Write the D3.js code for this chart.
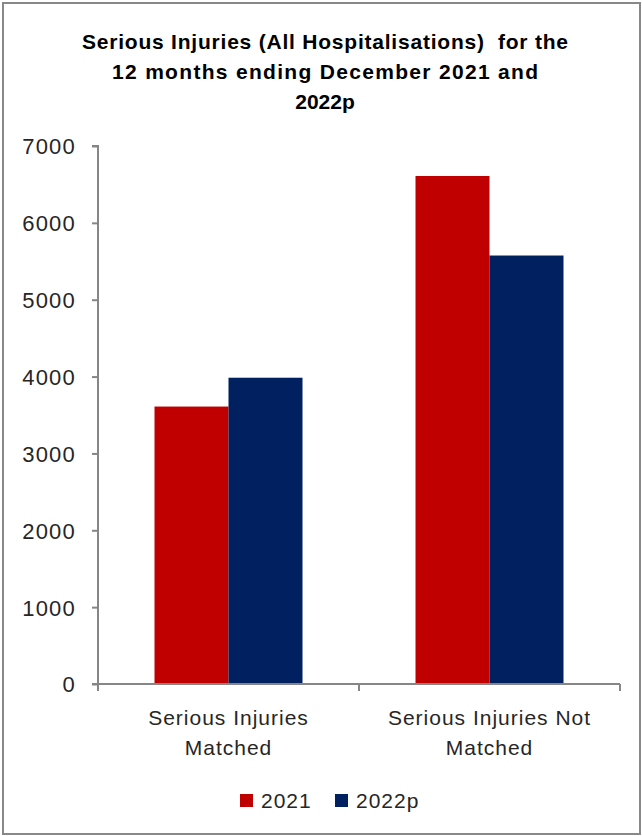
<!DOCTYPE html>
<html><head><meta charset="utf-8">
<script src="https://cdn.jsdelivr.net/npm/d3@7"></script>
<style>body{margin:0;background:#fff}svg{display:block}</style>
</head><body>
<script>
const categories = [["Serious Injuries","Matched"],["Serious Injuries Not","Matched"]];
const seriesNames = ["2021","2022p"];
const values2021 = [3610, 6610];
const values2022p = [3985, 5575];
const yTicks = [0,1000,2000,3000,4000,5000,6000,7000];
const titleLines = ["Serious Injuries (All Hospitalisations)  for the","12 months ending December 2021 and","2022p"];
const colors = ["#C00000","#002060"];

const W=642,H=836;
const svg=d3.select("body").append("svg").attr("width",W).attr("height",H);
svg.append("rect").attr("x",3).attr("y",3).attr("width",637).attr("height",831)
  .attr("fill","#fff").attr("stroke","#888").attr("stroke-width",2);

const font="Liberation Sans, Arial, sans-serif";
const titleW=[486,426,null];
svg.append("g").selectAll("text").data(titleLines).join("text")
  .attr("x",325).attr("y",(d,i)=>49+i*30).attr("text-anchor","middle")
  .attr("font-family",font).attr("font-weight","bold").attr("font-size",21).attr("fill","#000")
  .attr("xml:space","preserve")
  .each(function(d,i){ if(titleW[i]) d3.select(this).attr("textLength",titleW[i]).attr("lengthAdjust","spacing"); })
  .text(d=>d);

const x0=98,x1=620,yTop=146,yBot=684;
const x=d3.scaleBand().domain(d3.range(categories.length)).range([x0,x1]).paddingInner(0).paddingOuter(0);
const y=d3.scaleLinear().domain([0,7000]).range([yBot,yTop]);
const barW=74;

const data=categories.map((c,i)=>({i,vals:[values2021[i],values2022p[i]]}));
const g=svg.append("g");
data.forEach(d=>{
  const cx=x(d.i)+x.bandwidth()/2;
  d.vals.forEach((v,s)=>{
    g.append("rect").attr("x",cx-barW+s*barW).attr("width",barW)
      .attr("y",y(v)).attr("height",y(0)-y(v)).attr("fill",colors[s]);
  });
});

const axisColor="#868686";
const txtColor="#262626";
const ya=svg.append("g").attr("transform",`translate(${x0},0)`)
  .call(d3.axisLeft(y).tickValues(yTicks).tickSize(6).tickPadding(16).tickFormat(d3.format("d")));
ya.select(".domain").attr("stroke",axisColor).attr("stroke-width",2).attr("d",`M-6,${yTop}H0V${yBot}`);
ya.selectAll(".tick line").attr("stroke",axisColor).attr("stroke-width",2);
ya.selectAll(".tick text").attr("font-family",font).attr("font-size",22).attr("letter-spacing",1.2)
  .attr("dy","0.36em").attr("fill",txtColor);

const xa=svg.append("g").attr("transform",`translate(0,${yBot})`);
xa.append("line").attr("x1",x0-6).attr("x2",x1).attr("stroke",axisColor).attr("stroke-width",2);
const bounds=[...categories.map((c,i)=>x(i)),x1];
xa.selectAll("line.t").data(bounds).join("line").attr("class","t")
  .attr("x1",d=>d).attr("x2",d=>d).attr("y1",0).attr("y2",7).attr("stroke",axisColor).attr("stroke-width",2);
categories.forEach((c,i)=>{
  const cx=x(i)+x.bandwidth()/2;
  c.forEach((line,k)=>{
    xa.append("text").attr("x",cx).attr("y",41+k*30).attr("text-anchor","middle")
      .attr("font-family",font).attr("font-size",21).attr("letter-spacing",1).attr("fill",txtColor).text(line);
  });
});

const leg=svg.append("g");
const legItems=[{x:240,name:seriesNames[0],c:colors[0]},{x:335,name:seriesNames[1],c:colors[1]}];
legItems.forEach(l=>{
  leg.append("rect").attr("x",l.x).attr("y",794).attr("width",13).attr("height",13).attr("fill",l.c);
  leg.append("text").attr("x",l.x+21).attr("y",808).attr("font-family",font).attr("font-size",21)
    .attr("letter-spacing",1).attr("fill",txtColor).text(l.name);
});
</script>
</body></html>
